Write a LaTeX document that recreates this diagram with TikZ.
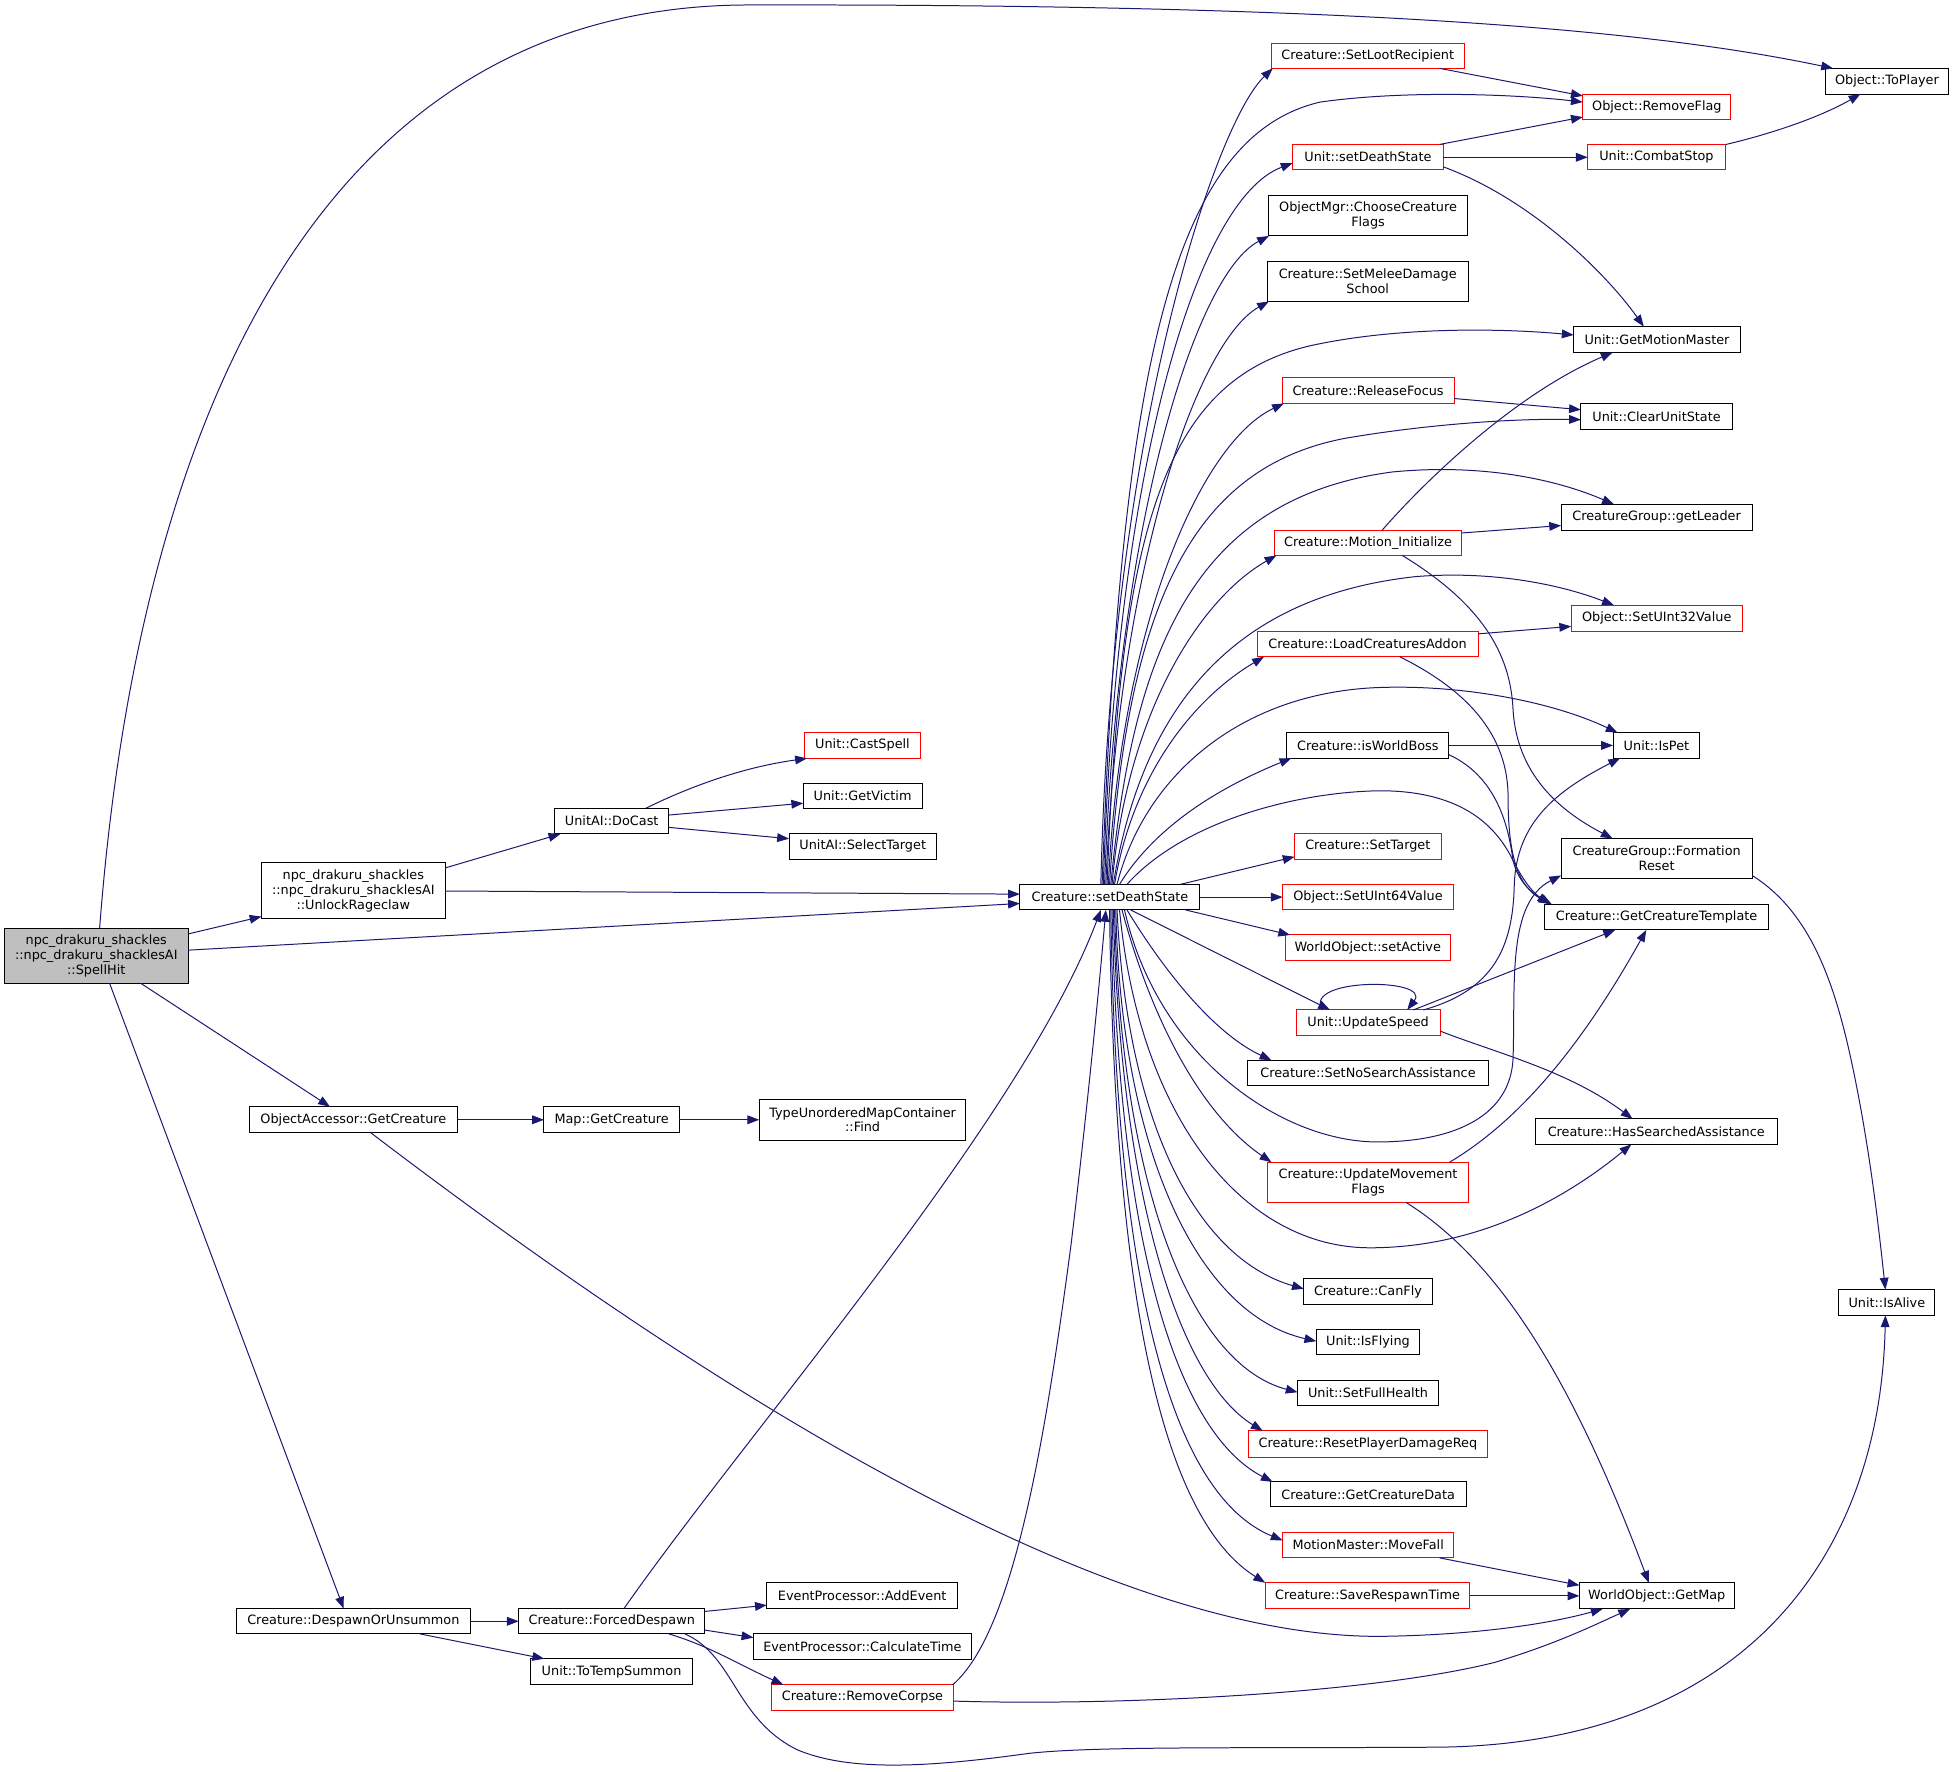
\documentclass[tikz,border=0pt]{standalone}
\usepackage{fontspec}
\setmainfont{DejaVu Sans}
\usetikzlibrary{arrows.meta}
\definecolor{edgec}{HTML}{191970}
\definecolor{redb}{HTML}{FF0000}
\definecolor{grayf}{HTML}{BFBFBF}
\newcommand\DGbox[7][box]{\node[#1, minimum width={#5-#3}, minimum height={#6-#4}] (#2) at ({(#3+#5)/2},{(#4+#6)/2}) {#7};}
\newcommand\ATop[2]{(#2,0 |- #1.north)}
\newcommand\ABot[2]{(#2,0 |- #1.south)}
\newcommand\ALeft[2]{(#1.west |- 0,#2)}
\newcommand\ARight[2]{(#1.east |- 0,#2)}
\begin{document}
\begin{tikzpicture}[x=1pt,y=-1pt,
  box/.style={draw=black, line width=0.8pt, rectangle, inner sep=0pt, outer sep=0pt, align=center, font=\fontsize{10.3}{12}\selectfont, fill=white},
  rbox/.style={box, draw=redb},
  gbox/.style={box, fill=grayf},
  e/.style={draw=edgec, line width=0.8pt, -{Triangle[length=9.5pt,width=7pt]}}]
\useasboundingbox (0,0) rectangle (1568.3,1422.9);
% left part
\DGbox[gbox]{S}{3.6}{745.4}{151}{789.6}{npc\_drakuru\_shackles\\::npc\_drakuru\_shacklesAI\\::SpellHit}
\DGbox{U}{210}{693}{357.4}{737.4}{npc\_drakuru\_shackles\\::npc\_drakuru\_shacklesAI\\::UnlockRageclaw}
\DGbox{DC}{445.3}{649}{537.1}{669.7}{UnitAI::DoCast}
\DGbox[rbox]{CS}{646.2}{588}{739}{609}{Unit::CastSpell}
\DGbox{GV}{645}{628.8}{740.4}{649.4}{Unit::GetVictim}
\DGbox{ST}{633.6}{669.4}{752}{690}{UnitAI::SelectTarget}
\DGbox{C}{819}{710.1}{963.6}{730.7}{Creature::setDeathState}
\DGbox{OA}{200}{888.7}{367.5}{909.5}{ObjectAccessor::GetCreature}
\DGbox{MG}{436.8}{888.7}{545.6}{909.6}{Map::GetCreature}
\DGbox{TF}{609.7}{882.8}{775.7}{915.5}{TypeUnorderedMapContainer\\::Find}
\DGbox{D}{189.8}{1291.8}{377.7}{1312}{Creature::DespawnOrUnsummon}
\DGbox{F}{416.6}{1291.8}{566}{1312}{Creature::ForcedDespawn}
\DGbox{TT}{425.8}{1332}{556.4}{1352.9}{Unit::ToTempSummon}
\DGbox{AE}{615.8}{1271}{768.9}{1291.8}{EventProcessor::AddEvent}
\DGbox{CT}{605}{1311.6}{780}{1332.5}{EventProcessor::CalculateTime}
\DGbox[rbox]{RC}{619.4}{1352.9}{765.8}{1373.2}{Creature::RemoveCorpse}
% middle column
\DGbox[rbox]{SLR}{1020.7}{34.8}{1176}{54.9}{Creature::SetLootRecipient}
\DGbox[rbox]{USD}{1038}{116}{1159}{136.5}{Unit::setDeathState}
\DGbox{CCF}{1018.8}{157}{1178.4}{189.5}{ObjectMgr::ChooseCreature\\Flags}
\DGbox{SMD}{1017.6}{209.6}{1179}{242}{Creature::SetMeleeDamage\\School}
\DGbox[rbox]{RF}{1029.6}{303}{1167.6}{324}{Creature::ReleaseFocus}
\DGbox[rbox]{MI}{1023.4}{425.6}{1173.8}{446}{Creature::Motion\_Initialize}
\DGbox[rbox]{LCA}{1009.5}{506.8}{1187}{527.4}{Creature::LoadCreaturesAddon}
\DGbox{WB}{1033.4}{588.4}{1163.4}{608.8}{Creature::isWorldBoss}
\DGbox[rbox]{STg}{1039.6}{669}{1157.2}{690}{Creature::SetTarget}
\DGbox[rbox]{S64}{1030}{710}{1167}{730.7}{Object::SetUInt64Value}
\DGbox[rbox]{SA}{1032}{750.8}{1164.6}{771.4}{WorldObject::setActive}
\DGbox[rbox]{US}{1040.7}{811}{1156.5}{831.4}{Unit::UpdateSpeed}
\DGbox{SNS}{1002}{851.4}{1195}{872}{Creature::SetNoSearchAssistance}
\DGbox[rbox]{UMF}{1017.6}{933.3}{1179.6}{965.5}{Creature::UpdateMovement\\Flags}
\DGbox{CF}{1047}{1027}{1150}{1047.7}{Creature::CanFly}
\DGbox{IF}{1057}{1068}{1140}{1088}{Unit::IsFlying}
\DGbox{SFH}{1042}{1108.5}{1155}{1129}{Unit::SetFullHealth}
\DGbox[rbox]{RPD}{1002.6}{1149}{1194.3}{1170}{Creature::ResetPlayerDamageReq}
\DGbox{GCD}{1020}{1190}{1177.3}{1210}{Creature::GetCreatureData}
\DGbox[rbox]{MF}{1030}{1230.5}{1167.3}{1251}{MotionMaster::MoveFall}
\DGbox[rbox]{SRT}{1016}{1271}{1180.4}{1292}{Creature::SaveRespawnTime}
% right column
\DGbox[rbox]{RMF}{1271}{75.5}{1390}{95.8}{Object::RemoveFlag}
\DGbox[rbox]{CST}{1275}{116}{1385.2}{136.5}{Unit::CombatStop}
\DGbox{GMM}{1263.7}{262.3}{1397.5}{283}{Unit::GetMotionMaster}
\DGbox{CUS}{1269.5}{324}{1391}{344.5}{Unit::ClearUnitState}
\DGbox{GL}{1253.6}{405}{1407}{425.6}{CreatureGroup::getLeader}
\DGbox[rbox]{S32}{1261.7}{486}{1399}{507}{Object::SetUInt32Value}
\DGbox{IP}{1295.3}{588.4}{1365}{608.8}{Unit::IsPet}
\DGbox{FR}{1253.6}{673.3}{1407}{705.4}{CreatureGroup::Formation\\Reset}
\DGbox{GCT}{1240.5}{726}{1420}{746.8}{Creature::GetCreatureTemplate}
\DGbox{HSA}{1233}{898.5}{1427}{919}{Creature::HasSearchedAssistance}
\DGbox{GM}{1268.3}{1271}{1392.5}{1292}{WorldObject::GetMap}
\DGbox{TP}{1466}{54.9}{1564.5}{75.5}{Object::ToPlayer}
\DGbox{IA}{1476.6}{1035.6}{1553.7}{1056.2}{Unit::IsAlive}
% edges: left part
\draw[e] \ATop{S}{80} .. controls (110,350) and (250,5) .. (600,4) .. controls (1100,3) and (1330,25) .. \ATop{TP}{1472};
\draw[e] \ARight{S}{750} -- \ALeft{U}{736};
\draw[e] \ARight{S}{763} -- \ALeft{C}{725.5};
\draw[e] \ABot{S}{113} -- \ATop{OA}{265};
\draw[e] \ABot{S}{88} -- \ATop{D}{276};
\draw[e] \ARight{U}{697} -- \ABot{DC}{450};
\draw[e] \ARight{U}{715.5} -- \ALeft{C}{718};
\draw[e] \ATop{DC}{518.7} .. controls (545,636) and (590,617) .. \ABot{CS}{648};
\draw[e] \ARight{DC}{654.5} -- \ALeft{GV}{645};
\draw[e] \ARight{DC}{664.4} -- \ALeft{ST}{673.5};
\draw[e] \ARight{OA}{899.2} -- \ALeft{MG}{899.2};
\draw[e] \ABot{OA}{297.6} .. controls (600,1140) and (900,1316) .. (1110,1314) .. controls (1180,1313) and (1240,1305) .. \ABot{GM}{1287};
\draw[e] \ARight{MG}{899.2} -- \ALeft{TF}{899.2};
\draw[e] \ARight{D}{1301.9} -- \ALeft{F}{1301.9};
\draw[e] \ABot{D}{337} -- \ATop{TT}{437};
\draw[e] \ATop{F}{501} .. controls (600,1150) and (820,900) .. \ABot{C}{884};
\draw[e] \ARight{F}{1294} -- \ALeft{AE}{1289};
\draw[e] \ARight{F}{1309} -- \ALeft{CT}{1315};
\draw[e] \ABot{F}{537} .. controls (570,1322) and (590,1335) .. \ATop{RC}{629};
\draw[e] \ABot{F}{550} .. controls (590,1330) and (590,1380) .. (640,1405) .. controls (680,1422) and (740,1420) .. (826,1408) .. controls (880,1402) and (1000,1404) .. (1156,1403) .. controls (1400,1400) and (1510,1250) .. \ABot{IA}{1514};
\draw[e] \ATop{RC}{765} .. controls (815,1310) and (840,1150) .. (860,1000) .. controls (872,900) and (882,800) .. \ABot{C}{888};
\draw[e] \ARight{RC}{1366} .. controls (900,1370) and (1100,1360) .. (1200,1335) .. controls (1250,1320) and (1280,1305) .. \ABot{GM}{1309};
% edges from setDeathState, upwards
\draw[e] \ATop{C}{884} .. controls (892,350) and (975,100) .. \ABot{SLR}{1022};
\draw[e] \ATop{C}{885} .. controls (900,300) and (940,110) .. (1060,82) .. controls (1130,72) and (1220,76) .. \ALeft{RMF}{82};
\draw[e] \ATop{C}{886} .. controls (896,380) and (960,160) .. \ALeft{USD}{131};
\draw[e] \ATop{C}{887} .. controls (897,420) and (960,220) .. \ABot{CCF}{1019};
\draw[e] \ATop{C}{888} .. controls (898,460) and (960,275) .. \ABot{SMD}{1019};
\draw[e] \ATop{C}{889} .. controls (900,420) and (935,300) .. (1060,276) .. controls (1130,262) and (1210,264) .. \ALeft{GMM}{269};
\draw[e] \ATop{C}{890} .. controls (900,500) and (965,355) .. \ABot{RF}{1031};
\draw[e] \ATop{C}{891} .. controls (905,480) and (960,375) .. (1080,352) .. controls (1150,340) and (1220,336) .. \ALeft{CUS}{337};
\draw[e] \ATop{C}{892} .. controls (910,520) and (960,400) .. (1118,379) .. controls (1190,372) and (1250,385) .. \ATop{GL}{1296};
\draw[e] \ATop{C}{893} .. controls (905,570) and (965,480) .. \ABot{MI}{1025};
\draw[e] \ATop{C}{894} .. controls (915,580) and (980,480) .. (1137,463) .. controls (1200,458) and (1255,470) .. \ATop{S32}{1296};
\draw[e] \ATop{C}{895} .. controls (910,620) and (960,560) .. \ABot{LCA}{1015};
\draw[e] \ATop{C}{897} .. controls (920,620) and (1000,555) .. (1110,552) .. controls (1180,550) and (1250,565) .. \ATop{IP}{1299};
\draw[e] \ATop{C}{899} .. controls (930,660) and (985,630) .. \ABot{WB}{1037};
\draw[e] \ATop{C}{905} .. controls (950,660) and (1040,636) .. (1108,635) .. controls (1170,635) and (1200,660) .. (1215,691) .. controls (1222,705) and (1230,716) .. \ATop{GCT}{1244};
\draw[e] \ATop{C}{948} -- \ALeft{STg}{688};
\draw[e] \ARight{C}{720.4} -- \ALeft{S64}{720.4};
% edges from setDeathState, downwards
\draw[e] \ABot{C}{952} -- \ATop{SA}{1036};
\draw[e] \ABot{C}{908} -- \ATop{US}{1068};
\draw[e] \ABot{C}{905} .. controls (935,780) and (975,830) .. \ATop{SNS}{1021};
\draw[e] \ABot{C}{903} .. controls (930,850) and (1030,917) .. (1106,917) .. controls (1170,917) and (1213,895) .. (1215,850) .. controls (1217,790) and (1210,725) .. \ALeft{FR}{703};
\draw[e] \ABot{C}{901} .. controls (925,820) and (965,895) .. \ATop{UMF}{1021};
\draw[e] \ABot{C}{899} .. controls (915,900) and (1000,1002) .. (1100,1002) .. controls (1190,1002) and (1260,960) .. \ABot{HSA}{1310};
\draw[e] \ABot{C}{897} .. controls (905,900) and (960,1010) .. \ALeft{CF}{1035};
\draw[e] \ABot{C}{896} .. controls (900,920) and (960,1055) .. \ALeft{IF}{1077};
\draw[e] \ABot{C}{895} .. controls (900,950) and (955,1095) .. \ALeft{SFH}{1118};
\draw[e] \ABot{C}{894} .. controls (900,970) and (950,1110) .. \ATop{RPD}{1014};
\draw[e] \ABot{C}{893} .. controls (898,1000) and (945,1150) .. \ATop{GCD}{1022};
\draw[e] \ABot{C}{892} .. controls (896,1030) and (940,1200) .. \ALeft{MF}{1237};
\draw[e] \ABot{C}{891} .. controls (895,1050) and (935,1220) .. \ATop{SRT}{1016};
% other edges
\draw[e] \ABot{SLR}{1156} -- \ALeft{RMF}{77};
\draw[e] \ATop{USD}{1156} -- \ALeft{RMF}{94};
\draw[e] \ARight{USD}{126.3} -- \ALeft{CST}{126.3};
\draw[e] \ARight{USD}{134} .. controls (1230,160) and (1290,220) .. \ATop{GMM}{1320};
\draw[e] \ATop{CST}{1386} .. controls (1420,108) and (1460,95) .. \ABot{TP}{1494};
\draw[e] \ARight{RF}{320} -- \ALeft{CUS}{329};
\draw[e] \ATop{MI}{1110} .. controls (1150,380) and (1220,315) .. \ABot{GMM}{1295};
\draw[e] \ARight{MI}{428} -- \ALeft{GL}{422};
\draw[e] \ABot{MI}{1126} .. controls (1190,485) and (1213,525) .. (1215,570) .. controls (1218,620) and (1250,650) .. \ATop{FR}{1295};
\draw[e] \ARight{LCA}{509} -- \ALeft{S32}{503};
\draw[e] \ABot{LCA}{1124} .. controls (1190,560) and (1211,600) .. (1211,640) .. controls (1211,690) and (1220,712) .. \ATop{GCT}{1245};
\draw[e] \ARight{WB}{598.6} -- \ALeft{IP}{598.6};
\draw[e] \ARight{WB}{606} .. controls (1205,625) and (1212,670) .. (1215,691) .. controls (1219,708) and (1230,717) .. \ATop{GCT}{1246};
\draw[e] \ATop{US}{1062} .. controls (1045,785) and (1150,785) .. \ATop{US}{1130};
\draw[e] \ATop{US}{1135} -- \ABot{GCT}{1297};
\draw[e] \ATop{US}{1143} .. controls (1200,795) and (1215,760) .. (1216,710) .. controls (1218,660) and (1250,635) .. \ABot{IP}{1301};
\draw[e] \ARight{US}{828} .. controls (1200,845) and (1260,860) .. \ATop{HSA}{1311};
\draw[e] \ATop{UMF}{1164} .. controls (1220,900) and (1270,840) .. \ABot{GCT}{1322};
\draw[e] \ABot{UMF}{1129} .. controls (1200,1010) and (1260,1100) .. \ATop{GM}{1324};
\draw[e] \ABot{MF}{1156} -- \ALeft{GM}{1273};
\draw[e] \ARight{SRT}{1281.5} -- \ALeft{GM}{1281.5};
\draw[e] \ARight{FR}{703} .. controls (1450,730) and (1470,780) .. (1484,840) .. controls (1500,910) and (1508,980) .. \ATop{IA}{1514};
\end{tikzpicture}
\end{document}
